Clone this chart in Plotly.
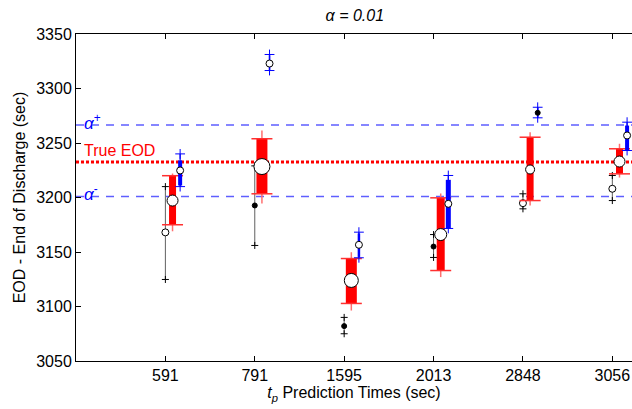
import plotly.graph_objects as go

# ---------------- data ----------------
categories = ["591", "791", "1595", "2013", "2848", "3056"]

black_lo  = [3124.8, 3156.0, 3075.0, 3145.0, 3189.6, 3197.2]
black_hi  = [3210.0, 3229.0, 3090.0, 3166.0, 3203.4, 3220.2]
black_med = [3168.0, 3192.7, 3082.0, 3155.0, 3194.8, 3208.0]

red_lo  = [3169.0, 3194.5, 3096.3, 3127.0, 3192.7, 3218.3]
red_q1  = [3175.0, 3203.4, 3102.8, 3133.0, 3197.2, 3221.7]
red_q3  = [3220.0, 3253.9, 3144.0, 3199.7, 3255.3, 3244.7]
red_hi  = [3222.0, 3261.5, 3149.8, 3203.7, 3259.9, 3249.3]
red_med = [3197.2, 3228.4, 3123.9, 3166.0, 3225.7, 3233.0]

blue_lo  = [3210.0, 3316.5, 3144.7, 3171.6, 3273.1, 3243.1]
blue_q1  = [3211.0, 3317.0, 3145.5, 3171.6, 3273.5, 3243.1]
blue_q3  = [3234.0, 3330.5, 3167.0, 3216.2, 3282.5, 3266.0]
blue_hi  = [3240.0, 3331.2, 3168.2, 3220.2, 3282.8, 3269.1]
blue_med = [3224.8, 3322.9, 3156.6, 3194.2, 3277.7, 3256.9]

true_eod = 3232.5
alpha_plus = 3266.5
alpha_minus = 3201.0

# ---------------- styles ----------------
black_open = [True, False, False, False, True, True]
blue_open = [True, True, True, True, False, True]
red_box_w = [7, 11, 11, 8, 7, 7]
red_med_size = [11, 16, 14, 12, 9, 11]
blue_box_w = [4, 1.5, 2.5, 5, 1.5, 4]
off_black, off_red, off_blue = 0.0, 0.08, 0.165

xi = list(range(1, len(categories) + 1))
xb = [x + off_black for x in xi]
xr = [x + off_red for x in xi]
xbl = [x + off_blue for x in xi]

def seg(xs, lo, hi):
    X, Y = [], []
    for x, a, b in zip(xs, lo, hi):
        X += [x, x, None]
        Y += [a, b, None]
    return X, Y

fig = go.Figure()

# reference lines
for yv in (alpha_plus, alpha_minus):
    fig.add_trace(go.Scatter(x=[0, 6.3], y=[yv, yv], mode="lines",
                             line=dict(color="#5f5fff", width=1.5, dash="8px,7px"),
                             hoverinfo="skip", showlegend=False))
fig.add_trace(go.Scatter(x=[0, 6.3], y=[true_eod, true_eod], mode="lines",
                         line=dict(color="#ff0000", width=3, dash="3px,2px"),
                         hoverinfo="skip", showlegend=False))

# black series
X, Y = seg(xb, black_lo, black_hi)
fig.add_trace(go.Scatter(x=X, y=Y, mode="lines", line=dict(color="#606060", width=1),
                         showlegend=False))
fig.add_trace(go.Scatter(x=xb + xb, y=black_lo + black_hi, mode="markers",
                         marker=dict(symbol="cross-thin", size=5, opacity=1,
                                     line=dict(color="black", width=1)),
                         showlegend=False))
fig.add_trace(go.Scatter(x=xb, y=black_med, mode="markers",
                         marker=dict(symbol="circle", opacity=1,
                                     size=[7 if o else 5 for o in black_open],
                                     color=["white" if o else "black" for o in black_open],
                                     line=dict(color="black", width=1)),
                         showlegend=False))

# red series
X, Y = seg(xr, red_lo, red_hi)
fig.add_trace(go.Scatter(x=X, y=Y, mode="lines", line=dict(color="#ff7070", width=1.5),
                         showlegend=False))
for k in range(len(categories)):
    fig.add_trace(go.Scatter(x=[xr[k], xr[k]], y=[red_q1[k], red_q3[k]], mode="lines",
                             line=dict(color="#ff0000", width=red_box_w[k]),
                             showlegend=False))
fig.add_trace(go.Scatter(x=xr + xr, y=red_q1 + red_q3, mode="markers",
                         marker=dict(symbol="line-ew", size=15, opacity=1,
                                     line=dict(color="#ff3030", width=1.5)),
                         showlegend=False))
fig.add_trace(go.Scatter(x=xr, y=red_med, mode="markers",
                         marker=dict(symbol="circle", size=red_med_size, color="white", opacity=1,
                                     line=dict(color="black", width=1)),
                         showlegend=False))

# blue series
X, Y = seg(xbl, blue_lo, blue_hi)
fig.add_trace(go.Scatter(x=X, y=Y, mode="lines", line=dict(color="#0000ff", width=1.2),
                         showlegend=False))
for k in range(len(categories)):
    fig.add_trace(go.Scatter(x=[xbl[k], xbl[k]], y=[blue_q1[k], blue_q3[k]], mode="lines",
                             line=dict(color="#0000ff", width=blue_box_w[k]),
                             showlegend=False))
fig.add_trace(go.Scatter(x=xbl + xbl, y=blue_lo + blue_hi, mode="markers",
                         marker=dict(symbol="cross-thin", size=7, opacity=1,
                                     line=dict(color="#0000ff", width=1)),
                         showlegend=False))
fig.add_trace(go.Scatter(x=xbl, y=blue_med, mode="markers",
                         marker=dict(symbol="circle", opacity=1,
                                     size=[7 if o else 5 for o in blue_open],
                                     color=["white" if o else "black" for o in blue_open],
                                     line=dict(color="black", width=1)),
                         showlegend=False))

font = "Liberation Sans, Arial, sans-serif"

fig.add_annotation(x=0.07, y=true_eod, text="True EOD", showarrow=False,
                   xanchor="left", yanchor="bottom", yshift=1,
                   font=dict(family=font, size=16, color="#ff0000"))
fig.add_annotation(x=0.07, y=alpha_plus, text="<i>α</i><sup>+</sup>", showarrow=False,
                   xanchor="left", yanchor="middle", yshift=3,
                   font=dict(family=font, size=17, color="#0000ff"))
fig.add_annotation(x=0.07, y=alpha_minus, text="<i>α</i><sup>-</sup>", showarrow=False,
                   xanchor="left", yanchor="middle", yshift=3,
                   font=dict(family=font, size=17, color="#0000ff"))

fig.update_layout(
    width=632, height=409,
    margin=dict(l=76, r=0, t=34, b=48),
    paper_bgcolor="white", plot_bgcolor="white",
    font=dict(family=font, size=16, color="black"),
    title=dict(text="<i>α = 0.01</i>", x=0.5615, xanchor="center", y=0.962, yanchor="middle",
               font=dict(family=font, size=16, color="black")),
    xaxis=dict(range=[0, 6.22], tickvals=xi, ticktext=categories,
               showgrid=False, zeroline=False, showline=True, linecolor="black", linewidth=1,
               mirror="ticks", ticks="inside", ticklen=5, tickcolor="black",
               tickfont=dict(family=font, size=16),
               title=dict(text="<i>t</i><sub><i>p</i></sub> Prediction Times (sec)", standoff=1,
                          font=dict(family=font, size=16))),
    yaxis=dict(range=[3050, 3350], tickvals=[3050, 3100, 3150, 3200, 3250, 3300, 3350],
               showgrid=False, zeroline=False, showline=True, linecolor="black", linewidth=1,
               ticks="inside", ticklen=5, tickcolor="black",
               tickfont=dict(family=font, size=16),
               title=dict(text="EOD - End of Discharge (sec)", standoff=6,
                          font=dict(family=font, size=16))),
)

fig.write_html("out.html")
